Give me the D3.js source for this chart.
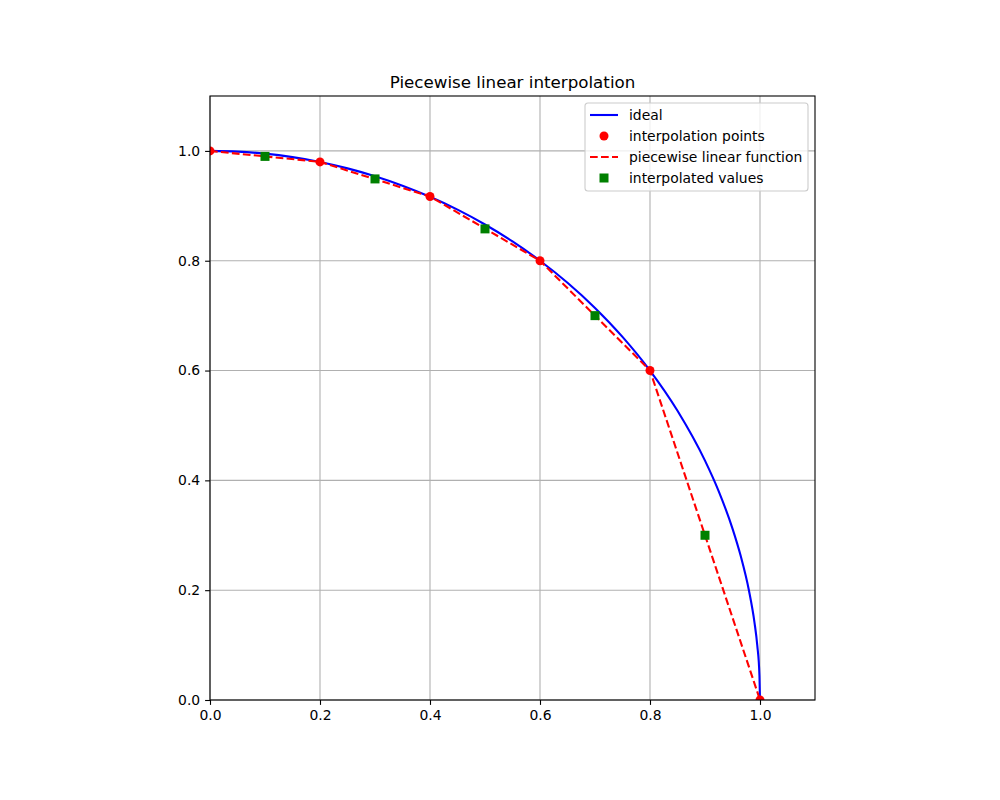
<!DOCTYPE html>
<html lang="en">
<head>
<meta charset="utf-8">
<title>Piecewise linear interpolation</title>
<script src="https://cdn.jsdelivr.net/npm/d3@7"></script>
<style>
    body { margin: 0; background: #fff; }
    text { font-family: "DejaVu Sans", sans-serif; }
</style>
</head>
<body>
<svg id="chart" width="1000" height="800"></svg>
<script>
// ideal curve
var idealX = [0, 0.05, 0.1, 0.15, 0.2, 0.25, 0.3, 0.35, 0.4, 0.45, 0.5, 0.55, 0.6, 0.65, 0.7, 0.75, 0.8, 0.85, 0.9, 0.925, 0.95, 0.965, 0.98, 0.99, 0.995, 0.999, 1.0];
var idealY = [1, 0.9987, 0.995, 0.9887, 0.9798, 0.9682, 0.9539, 0.9367, 0.9165, 0.893, 0.866, 0.8352, 0.8, 0.7599, 0.7141, 0.6614, 0.6, 0.5268, 0.4359, 0.38, 0.3122, 0.2621, 0.199, 0.1411, 0.0999, 0.0447, 0];

// interpolation points
var nodeX = [0, 0.2, 0.4, 0.6, 0.8, 1.0];
var nodeY = [1, 0.98, 0.917, 0.8, 0.6, 0];

// interpolated values
var evalX = [0.1, 0.3, 0.5, 0.7, 0.9];
var evalY = [0.99, 0.949, 0.858, 0.7, 0.3];

var tickValues = [0, 0.2, 0.4, 0.6, 0.8, 1.0];

var svg = d3.select("#chart");
// plot box ("top" is taken by window.top, so use other names)
var pL = 210, pR = 815, pT = 96, pB = 700;

var x = d3.scaleLinear().domain([0, 1.1]).range([pL, pR]);
var y = d3.scaleLinear().domain([0, 1.1]).range([pB, pT]);

svg.append("defs").append("clipPath").attr("id", "plotclip")
    .append("rect")
    .attr("x", pL).attr("y", pT)
    .attr("width", pR - pL).attr("height", pB - pT);

// grid
var grid = svg.append("g");
grid.selectAll(".gx").data(tickValues).enter().append("line")
    .attr("x1", d => x(d)).attr("x2", d => x(d))
    .attr("y1", pT).attr("y2", pB)
    .attr("stroke", "#b0b0b0").attr("stroke-width", 1.1);
grid.selectAll(".gy").data(tickValues).enter().append("line")
    .attr("x1", pL).attr("x2", pR)
    .attr("y1", d => y(d)).attr("y2", d => y(d))
    .attr("stroke", "#b0b0b0").attr("stroke-width", 1.1);

var plot = svg.append("g").attr("clip-path", "url(#plotclip)");

var ideal = idealX.map((d, i) => [d, idealY[i]]);
var nodes = nodeX.map((d, i) => [d, nodeY[i]]);
var evals = evalX.map((d, i) => [d, evalY[i]]);

plot.append("path").datum(ideal)
    .attr("d", d3.line().x(d => x(d[0])).y(d => y(d[1])).curve(d3.curveMonotoneX))
    .attr("fill", "none").attr("stroke", "blue").attr("stroke-width", 2.1);

plot.selectAll(".node").data(nodes).enter().append("circle")
    .attr("cx", d => x(d[0])).attr("cy", d => y(d[1]))
    .attr("r", 4.5).attr("fill", "red");

plot.append("path").datum(nodes)
    .attr("d", d3.line().x(d => x(d[0])).y(d => y(d[1])))
    .attr("fill", "none").attr("stroke", "red").attr("stroke-width", 2.1)
    .attr("stroke-dasharray", "7.7,3.3");

plot.selectAll(".ev").data(evals).enter().append("rect")
    .attr("x", d => x(d[0]) - 4.5).attr("y", d => y(d[1]) - 4.5)
    .attr("width", 9).attr("height", 9).attr("fill", "green");

// axes
var xAxis = svg.append("g").attr("transform", "translate(0," + pB + ")")
    .call(d3.axisBottom(x).tickValues(tickValues).tickFormat(d3.format(".1f")).tickSizeOuter(0).tickSize(4.9).tickPadding(4.9));
var yAxis = svg.append("g").attr("transform", "translate(" + pL + ",0)")
    .call(d3.axisLeft(y).tickValues(tickValues).tickFormat(d3.format(".1f")).tickSizeOuter(0).tickSize(4.9).tickPadding(4.9));
[xAxis, yAxis].forEach(function(a) {
    a.select(".domain").remove();
    a.selectAll("text").attr("font-size", 13.9).attr("fill", "black").style("font-family", "DejaVu Sans");
    a.selectAll("line").attr("stroke", "black").attr("stroke-width", 1.1);
});

// frame
svg.append("rect")
    .attr("x", pL).attr("y", pT)
    .attr("width", pR - pL).attr("height", pB - pT)
    .attr("fill", "none").attr("stroke", "black").attr("stroke-width", 1.1);

svg.append("text")
    .attr("x", (pL + pR) / 2).attr("y", 88)
    .attr("text-anchor", "middle").attr("font-size", 16.7)
    .text("Piecewise linear interpolation");

// legend
var lg = svg.append("g").attr("transform", "translate(585,103)");
lg.append("rect").attr("width", 223).attr("height", 88).attr("rx", 3)
    .attr("fill", "white").attr("fill-opacity", 0.8)
    .attr("stroke", "#cccccc").attr("stroke-width", 1.1);

var legendItems = ["ideal", "interpolation points", "piecewise linear function", "interpolated values"];
legendItems.forEach(function(name, i) {
    var cy = 12 + i * 21;
    var g = lg.append("g").attr("transform", "translate(0," + cy + ")");
    if (i === 0) {
        g.append("line").attr("x1", 5).attr("x2", 33).attr("stroke", "blue").attr("stroke-width", 2.1);
    } else if (i === 1) {
        g.append("circle").attr("cx", 19).attr("r", 4.5).attr("fill", "red");
    } else if (i === 2) {
        g.append("line").attr("x1", 5).attr("x2", 33).attr("stroke", "red").attr("stroke-width", 2.1)
            .attr("stroke-dasharray", "7.7,3.3");
    } else {
        g.append("rect").attr("x", 14.5).attr("y", -4.5).attr("width", 9).attr("height", 9).attr("fill", "green");
    }
    g.append("text").attr("x", 44).attr("y", 5).attr("font-size", 13.9).text(name);
});
</script>
</body>
</html>
